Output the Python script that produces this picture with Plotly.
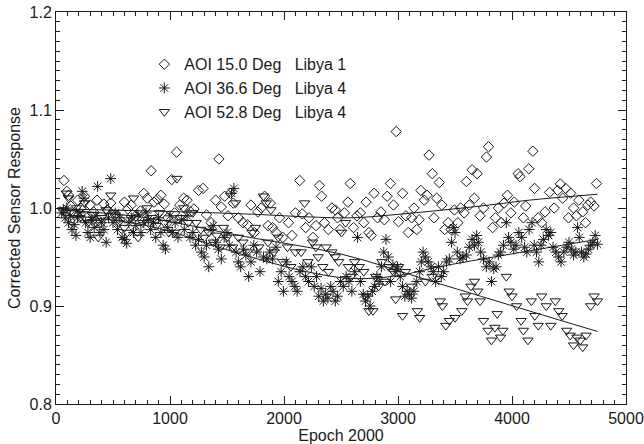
import plotly.graph_objects as go

# ---- data ----
dia_x = [70, 95, 110, 130, 160, 190, 220, 250, 270, 300, 330, 360, 390, 420, 450, 480, 520, 560, 600, 630,
         660, 700, 740, 770, 800, 835, 860, 890, 920, 950, 980,
         1015, 1040, 1058, 1085, 1120, 1150, 1180, 1210, 1250, 1290, 1320, 1360, 1400, 1429, 1450, 1480, 1510, 1530, 1555,
         1600, 1640, 1680, 1710, 1740, 1770, 1800, 1830, 1860, 1880, 1900, 1930, 1960, 1990,
         2040, 2070, 2100, 2138, 2160, 2190, 2220, 2255, 2280, 2311, 2330, 2355, 2390, 2420, 2450, 2470, 2490,
         2530, 2560, 2581, 2610, 2640, 2670, 2700, 2720, 2745, 2765, 2790, 2820, 2850, 2880, 2905, 2934, 2960, 2984, 3005,
         3040, 3070, 3090, 3120, 3140, 3165, 3185, 3200, 3230, 3255, 3272, 3301, 3315, 3340, 3362, 3385, 3410, 3440, 3465, 3495,
         3525, 3550, 3580, 3600, 3625, 3650, 3670, 3694, 3720, 3750, 3776, 3794, 3830, 3855, 3880, 3905, 3930, 3960, 3990,
         4020, 4054, 4070, 4100, 4120, 4147, 4183, 4198, 4230, 4260, 4290, 4330, 4370, 4400, 4424, 4445, 4471,
         4496, 4515, 4540, 4565, 4586, 4620, 4645, 4666, 4690, 4720, 4741]
dia_y = [1.028, 1.017, 1.013, 1.002, 0.995, 1.008, 1.0, 1.012, 0.99, 1.003, 0.996, 1.008, 0.985, 1.004, 0.998, 1.005, 0.993, 0.988, 1.006, 0.999,
         1.003, 0.992, 0.997, 1.015, 1.01, 1.038, 1.006, 1.009, 1.013, 1.004, 0.99,
         1.029, 0.995, 1.057, 1.003, 1.01, 1.008, 0.996, 0.999, 1.018, 1.02, 0.993, 0.985, 1.008, 1.05, 1.001, 1.012, 0.992, 1.015, 1.005,
         0.99, 0.985, 0.983, 1.003, 0.975, 0.996, 1.0, 1.012, 0.982, 1.005, 0.98, 0.975, 0.99, 0.97,
         0.985, 0.972, 0.995, 1.028, 0.994, 0.98, 0.99, 0.97, 0.982, 1.023, 1.012, 0.985, 0.978, 1.0, 0.998, 0.99, 0.978,
         0.995, 1.006, 1.025, 0.98, 0.992, 0.995, 0.985, 1.006, 0.975, 0.972, 1.015, 0.99, 0.996, 0.988, 1.012, 1.025, 1.003, 1.078, 0.986,
         1.015, 0.992, 0.975, 0.99, 1.0, 0.978, 0.988, 1.018, 1.008, 1.013, 1.054, 1.035, 0.99, 1.01, 1.026, 1.003, 0.978, 0.985, 0.978, 0.998,
         0.985, 1.0, 0.995, 1.027, 1.003, 1.039, 1.01, 1.035, 0.992, 1.0, 1.052, 1.0625, 0.98, 0.99, 1.0, 0.985, 1.005, 1.013, 0.995,
         1.006, 1.035, 1.032, 0.99, 1.002, 1.04, 1.058, 1.02, 0.99, 0.985, 0.996, 1.016, 1.0, 1.018, 1.0245, 1.01, 1.02,
         0.99, 1.015, 1.0, 0.992, 1.008, 0.996, 0.985, 1.003, 1.006, 1.002, 1.025]

ast_x = [50, 65, 80, 95, 110, 125, 140, 160, 175, 190, 210, 230, 245, 260, 280, 300, 315, 335, 350, 365,
         385, 400, 420, 440, 460, 480, 500, 520, 540, 560, 580, 600, 620, 640, 660, 680, 700, 720, 745, 770,
         790, 810, 830, 855, 875, 900, 920, 940, 960, 980, 1000,
         1020, 1045, 1070, 1100, 1125, 1150, 1175, 1200, 1225, 1250, 1275, 1300, 1320, 1340, 1360, 1380, 1400, 1425, 1450, 1475,
         1500, 1520, 1540, 1560,
         1580, 1600, 1620, 1645, 1665, 1690, 1710, 1735, 1760, 1790, 1820, 1850, 1875, 1900, 1930, 1950, 1975, 1995,
         2020, 2045, 2070, 2095, 2115, 2140, 2165, 2190, 2215, 2240, 2265, 2285, 2305, 2325, 2345, 2365, 2385, 2410, 2430, 2450, 2470, 2495,
         2520, 2545, 2570, 2595, 2620, 2645, 2670, 2695, 2715, 2735, 2755, 2775, 2795, 2815, 2835, 2855, 2875, 2895, 2915, 2935, 2955, 2975, 2995,
         3020, 3040, 3060, 3080, 3100, 3120, 3140, 3165, 3190, 3205, 3220, 3240, 3265, 3290, 3310, 3330, 3355, 3380, 3400, 3425, 3450, 3470, 3485, 3500,
         3520, 3545, 3570, 3600, 3625, 3650, 3670, 3690, 3705, 3725, 3750, 3775, 3800, 3820, 3840, 3860, 3880, 3900, 3925, 3950, 3970, 3990,
         4015, 4035, 4060, 4085, 4110, 4130, 4150, 4175, 4195, 4215, 4235, 4255, 4275, 4300, 4320, 4340, 4360, 4385, 4410, 4430, 4455, 4480,
         4500, 4520, 4540, 4560, 4575, 4590, 4610, 4630, 4650, 4670, 4690, 4710, 4730, 4750]
ast_y = [0.995, 0.998, 0.99, 1.0, 0.985, 0.992, 0.978, 0.983, 0.972, 0.99, 0.995, 1.017, 1.01, 0.985, 0.975, 0.97, 0.988, 0.98, 0.992, 1.022,
         0.975, 0.985, 0.978, 0.965, 0.99, 1.03, 0.985, 0.995, 0.978, 0.99, 0.97, 0.968, 0.964, 0.985, 0.99, 0.975, 0.982, 0.993, 0.975, 0.985,
         0.995, 0.988, 0.978, 0.985, 0.97, 0.99, 0.975, 0.962, 0.958, 0.98, 0.992,
         0.975, 0.985, 0.97, 0.988, 0.978, 0.992, 0.97, 0.975, 0.962, 0.968, 0.955, 0.95, 0.962, 0.94, 0.978, 0.982, 0.965, 0.958, 0.948, 0.97,
         0.975, 0.962, 1.015, 1.02,
         0.955, 0.945, 0.94, 0.958, 0.952, 0.93, 0.945, 0.962, 0.955, 0.935, 0.95, 0.948, 0.955, 0.948, 0.96, 0.925, 0.935, 0.915,
         0.945, 0.93, 0.925, 0.92, 0.915, 0.935, 0.94, 0.93, 0.925, 0.94, 0.92, 0.93, 0.91, 0.918, 0.905, 0.912, 0.908, 0.92, 0.915, 0.905, 0.91, 0.925,
         0.92, 0.93, 0.925, 0.915, 0.935, 0.97, 0.925, 0.912, 0.905, 0.91, 0.9, 0.915, 0.92, 0.93, 0.925, 0.94, 0.955, 0.968, 0.95, 0.925, 0.942, 0.935, 0.94,
         0.93, 0.92, 0.91, 0.915, 0.912, 0.908, 0.915, 0.925, 0.935, 0.945, 0.955, 0.95, 0.945, 0.94, 0.935, 0.925, 0.94, 0.93, 0.935, 0.945, 0.948, 0.965, 0.98, 0.975,
         0.955, 0.948, 0.95, 0.952, 0.96, 0.968, 0.962, 0.972, 0.965, 0.955, 0.948, 0.94, 0.945, 0.925, 0.938, 0.94, 0.952, 0.955, 0.962, 0.985, 0.97, 0.965,
         0.958, 0.962, 0.975, 0.97, 0.96, 0.955, 0.978, 0.985, 0.962, 0.955, 0.945, 0.962, 0.968, 0.978, 0.972, 0.975, 0.96, 0.955, 0.95, 0.945, 0.955, 0.96,
         0.965, 0.958, 0.952, 0.955, 0.98, 0.97, 0.955, 0.95, 0.953, 0.958, 0.962, 0.965, 0.972, 0.963]

tri_x = [60, 90, 110, 140, 180, 210, 250, 280, 320, 350, 370, 400, 440, 480, 510, 550, 600, 625, 660, 680,
         720, 760, 800, 840, 880, 910, 950, 990,
         1040, 1060, 1090, 1120, 1160, 1200, 1230, 1270, 1300, 1340, 1380, 1410, 1440, 1470, 1500,
         1550, 1575, 1600, 1640, 1680, 1720, 1750, 1780, 1820, 1845, 1860, 1885, 1910, 1950, 1990,
         2030, 2060, 2100, 2150, 2180, 2210, 2250, 2280, 2300, 2340, 2370, 2390, 2420, 2450, 2480, 2505,
         2540, 2565, 2590, 2620, 2660, 2700, 2720, 2745, 2780, 2805, 2830, 2860, 2885, 2920, 2960, 2980, 3005,
         3040, 3065, 3120, 3170, 3190, 3240, 3300, 3370, 3390, 3420, 3450, 3500,
         3560, 3590, 3610, 3640, 3670, 3700, 3720, 3750, 3790, 3820, 3850, 3870, 3900, 3920, 3950, 3975, 4000,
         4040, 4080, 4100, 4140, 4170, 4200, 4230, 4260, 4300, 4340, 4380, 4410, 4440,
         4480, 4510, 4540, 4570, 4600, 4620, 4650, 4690, 4720, 4750]
tri_y = [0.998, 1.015, 1.01, 0.995, 1.0, 0.99, 1.005, 0.985, 0.993, 0.985, 0.97, 0.99, 0.998, 1.013, 0.995, 0.985, 0.98, 0.975, 0.99, 1.01,
         0.97, 0.985, 1.0, 0.99, 0.982, 0.995, 0.985, 0.975,
         0.975, 1.03, 0.99, 1.0, 0.985, 0.995, 0.985, 0.978, 0.97, 0.975, 0.965, 0.972, 0.96, 0.98, 0.97,
         0.96, 1.005, 0.97, 0.965, 0.955, 0.975, 0.98, 0.96, 1.012, 1.005, 0.965, 0.998, 0.955, 0.97, 0.945,
         0.96, 0.94, 0.955, 0.955, 1.005, 0.945, 0.965, 0.96, 0.95, 0.94, 0.96, 0.935, 0.955, 0.95, 0.945, 0.975,
         0.985, 0.94, 0.93, 0.945, 0.94, 0.935, 0.91, 0.895, 0.895, 0.93, 0.92, 0.945, 0.925, 0.94, 0.935, 0.907, 0.94,
         0.89, 0.935, 0.92, 0.895, 0.888, 0.925, 0.93, 0.905, 0.9, 0.88, 0.885, 0.888,
         0.895, 0.91, 0.905, 0.92, 0.925, 0.915, 0.905, 0.885, 0.875, 0.865, 0.878, 0.892, 0.868, 0.875, 0.93, 0.915, 0.91,
         0.9, 0.885, 0.875, 0.865, 0.905, 0.89, 0.88, 0.91, 0.9, 0.88, 0.905, 0.895, 0.89,
         0.875, 0.87, 0.86, 0.868, 0.865, 0.858, 0.87, 0.9, 0.91, 0.905]

# fitted trend lines
dia_fit_x = [50, 800, 1650, 2200, 2600, 3000, 3400, 3800, 4150, 4750]
dia_fit_y = [0.999, 0.997, 0.994, 0.991, 0.990, 0.9935, 0.998, 1.003, 1.008, 1.014]
ast_fit_x = [50, 800, 1650, 2200, 2600, 3000, 3360, 4190, 4750]
ast_fit_y = [0.993, 0.982, 0.952, 0.935, 0.928, 0.931, 0.940, 0.957, 0.968]
tri_fit_x = [50, 800, 1650, 2500, 3300, 4150, 4750]
tri_fit_y = [0.998, 0.990, 0.971, 0.953, 0.925, 0.895, 0.874]

labels = ["AOI 15.0 Deg\u00a0\u00a0\u00a0Libya 1",
          "AOI 36.6 Deg\u00a0\u00a0\u00a0Libya 4",
          "AOI 52.8 Deg\u00a0\u00a0\u00a0Libya 4"]

INK = "#1a1a1a"
FONT = "Liberation Sans, Arial, Helvetica, sans-serif"

fig = go.Figure()
fig.add_trace(go.Scatter(x=dia_x, y=dia_y, mode="markers", name=labels[0], legendgroup="a",
                         marker=dict(symbol="diamond-open", size=8, color=INK, line=dict(width=1, color=INK))))
fig.add_trace(go.Scatter(x=ast_x, y=ast_y, mode="markers", name=labels[1], legendgroup="b",
                         marker=dict(symbol="asterisk-open", size=9, color=INK, line=dict(width=1, color=INK))))
fig.add_trace(go.Scatter(x=tri_x, y=tri_y, mode="markers", name=labels[2], legendgroup="c",
                         marker=dict(symbol="triangle-down-open", size=9, color=INK, line=dict(width=1, color=INK))))
for fx, fy in [(dia_fit_x, dia_fit_y), (ast_fit_x, ast_fit_y), (tri_fit_x, tri_fit_y)]:
    fig.add_trace(go.Scatter(x=fx, y=fy, mode="lines", showlegend=False, hoverinfo="skip",
                             line=dict(color=INK, width=1, shape="spline")))

axis_common = dict(showline=True, linecolor=INK, linewidth=1, mirror="ticks", ticks="inside",
                   tickcolor=INK, showgrid=False, zeroline=False, automargin=False,
                   tickfont=dict(size=16, color=INK, family=FONT))
fig.update_xaxes(range=[0, 5000], tickmode="linear", tick0=0, dtick=1000, ticklen=8,
                 minor=dict(ticks="inside", dtick=100, ticklen=4, tickcolor=INK, showgrid=False),
                 title=dict(text="Epoch 2000", font=dict(size=16, color=INK, family=FONT), standoff=0),
                 **axis_common)
fig.update_yaxes(range=[0.8, 1.2], tickmode="linear", tick0=0.8, dtick=0.1, tickformat=".1f", ticklen=8,
                 minor=dict(ticks="inside", dtick=0.01, ticklen=4, tickcolor=INK, showgrid=False),
                 title=dict(text="Corrected Sensor Response", font=dict(size=16, color=INK, family=FONT), standoff=4),
                 **axis_common)

fig.update_layout(
    width=644, height=444,
    margin=dict(l=56, r=18, t=12, b=40),
    paper_bgcolor="white", plot_bgcolor="white",
    font=dict(family=FONT, color=INK),
    showlegend=True,
    legend=dict(x=0.155, y=0.91, xanchor="left", yanchor="top", bgcolor="rgba(0,0,0,0)",
                font=dict(size=16, color=INK, family=FONT), tracegroupgap=0),
)

fig.write_html("out.html")
